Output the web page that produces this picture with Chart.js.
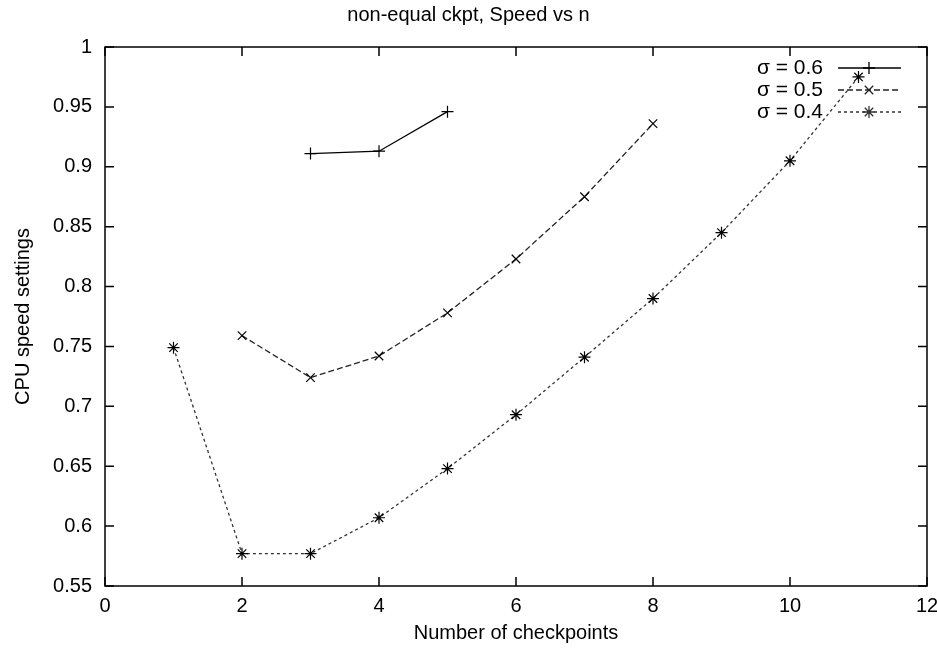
<!DOCTYPE html>
<html><head><meta charset="utf-8">
<script src="https://cdn.jsdelivr.net/npm/chart.js@4/dist/chart.umd.min.js"></script>
<style>html,body{margin:0;padding:0;background:#fff}#wrap{width:937px;height:651px}</style>
</head><body><div id="wrap"><canvas id="c"></canvas></div>
<script>
const xs06 = [3, 4, 5];
const ys06 = [0.911, 0.913, 0.946];
const xs05 = [2, 3, 4, 5, 6, 7, 8];
const ys05 = [0.759, 0.724, 0.742, 0.778, 0.823, 0.875, 0.936];
const xs04 = [1, 2, 3, 4, 5, 6, 7, 8, 9, 10, 11];
const ys04 = [0.749, 0.577, 0.577, 0.607, 0.648, 0.693, 0.741, 0.790, 0.845, 0.905, 0.975];
const labels = ['σ = 0.6', 'σ = 0.5', 'σ = 0.4'];
const xTicks = [0, 2, 4, 6, 8, 10, 12];
const yTicks = [0.55, 0.6, 0.65, 0.7, 0.75, 0.8, 0.85, 0.9, 0.95, 1];

const FONT = "'Liberation Sans', Arial, sans-serif";
const pts = (xs, ys) => xs.map((x, i) => ({x, y: ys[i]}));

const frame = {
  id: 'frame',
  afterDatasetsDraw(chart) {
    const {ctx, chartArea: a, scales: {x, y}} = chart;
    ctx.save();
    ctx.strokeStyle = '#000';
    ctx.lineWidth = 1.5;
    ctx.strokeRect(a.left, a.top, a.right - a.left, a.bottom - a.top);
    const L = 9;
    ctx.beginPath();
    xTicks.forEach(v => {
      const p = x.getPixelForValue(v);
      ctx.moveTo(p, a.bottom); ctx.lineTo(p, a.bottom - L);
      ctx.moveTo(p, a.top); ctx.lineTo(p, a.top + L);
    });
    yTicks.forEach(v => {
      const p = y.getPixelForValue(v);
      ctx.moveTo(a.left, p); ctx.lineTo(a.left + L, p);
      ctx.moveTo(a.right, p); ctx.lineTo(a.right - L, p);
    });
    ctx.stroke();
    // legend
    ctx.font = '21px ' + FONT;
    ctx.textAlign = 'right';
    ctx.textBaseline = 'middle';
    chart.data.datasets.forEach((ds, i) => {
      const cy = a.top + 21 + i * 22;
      ctx.fillStyle = '#000';
      ctx.fillText(ds.label, a.right - 104, cy);
      ctx.save();
      ctx.strokeStyle = ds.borderColor;
      ctx.lineWidth = ds.borderWidth;
      ctx.setLineDash(ds.borderDash || []);
      ctx.beginPath();
      ctx.moveTo(a.right - 89, cy); ctx.lineTo(a.right - 26, cy);
      ctx.stroke();
      ctx.setLineDash([]);
      Chart.helpers.drawPoint(ctx, {pointStyle: ds.pointStyle, radius: ds.pointRadius, borderWidth: 1.2}, a.right - 58, cy);
      ctx.restore();
    });
    ctx.restore();
  }
};

new Chart(document.getElementById('c'), {
  type: 'line',
  data: {
    datasets: [
      {label: labels[0], data: pts(xs06, ys06), borderColor: '#000', borderWidth: 1.3, pointStyle: 'cross', pointRadius: 6},
      {label: labels[1], data: pts(xs05, ys05), borderColor: '#222', borderWidth: 1.3, borderDash: [6, 3], pointStyle: 'crossRot', pointRadius: 6},
      {label: labels[2], data: pts(xs04, ys04), borderColor: '#333', borderWidth: 1.3, borderDash: [3, 3], pointStyle: 'star', pointRadius: 6}
    ].map(d => Object.assign(d, {fill: false, tension: 0, pointBorderColor: '#000', pointBackgroundColor: '#000', pointBorderWidth: 1.2}))
  },
  options: {
    responsive: true, maintainAspectRatio: false, animation: false,
    layout: {padding: {left: 0, right: 0, top: 0, bottom: 6}},
    plugins: {
      legend: {display: false},
      tooltip: {enabled: false},
      title: {display: true, text: 'non-equal ckpt, Speed vs n', color: '#000',
        font: {family: FONT, size: 20, weight: 'normal'}, padding: {top: 3, bottom: 20}}
    },
    scales: {
      x: {type: 'linear', min: 0, max: 12,
        afterBuildTicks: s => { s.ticks = xTicks.map(v => ({value: v})); },
        afterFit: s => { s.height = 59; s.paddingRight = 10; s.paddingLeft = 0; },
        grid: {display: false, drawTicks: false}, border: {display: false},
        ticks: {color: '#000', font: {family: FONT, size: 20}, padding: 8, maxRotation: 0},
        title: {display: true, text: 'Number of checkpoints', color: '#000', font: {family: FONT, size: 20}, padding: {top: 0, bottom: 0}}
      },
      y: {type: 'linear', min: 0.55, max: 1,
        afterBuildTicks: s => { s.ticks = yTicks.map(v => ({value: v})); },
        afterFit: s => { s.width = 105; },
        grid: {display: false, drawTicks: false}, border: {display: false},
        ticks: {color: '#000', font: {family: FONT, size: 20}, padding: 13,
          callback: v => String(Number(v.toFixed(2)))},
        title: {display: true, text: 'CPU speed settings', color: '#000', font: {family: FONT, size: 20}, padding: {top: 11, bottom: 0}}
      }
    }
  },
  plugins: [frame]
});
</script></body></html>
